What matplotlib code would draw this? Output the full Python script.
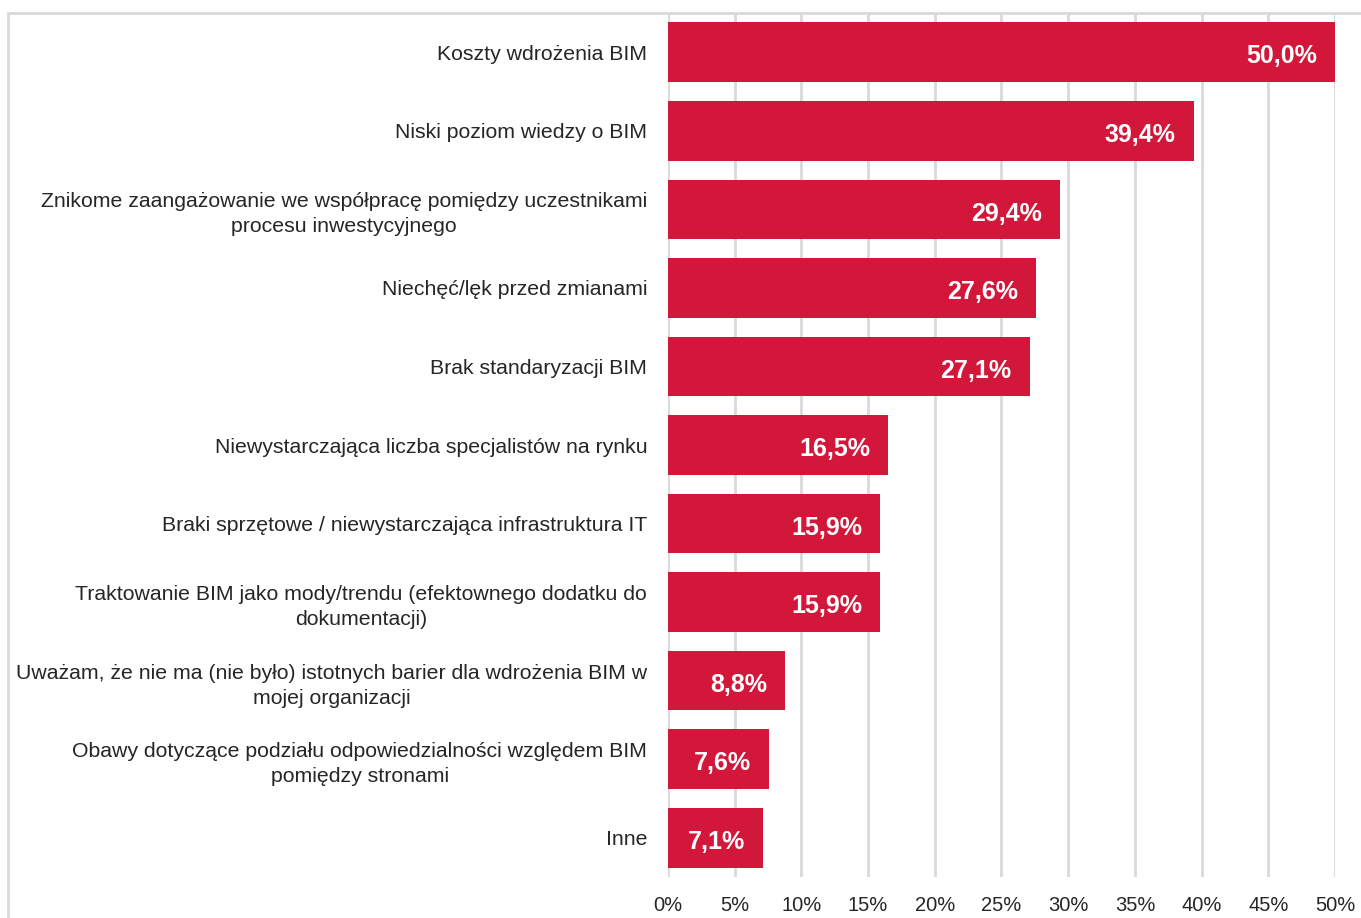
import matplotlib
matplotlib.use("Agg")
import matplotlib.pyplot as plt
from matplotlib.patches import Rectangle
from matplotlib.ticker import MultipleLocator, FuncFormatter

plt.rcParams['font.family'] = ['Liberation Sans', 'DejaVu Sans']

categories = [
    "Koszty wdrożenia BIM",
    "Niski poziom wiedzy o BIM",
    "Znikome zaangażowanie we współpracę pomiędzy uczestnikami\nprocesu inwestycyjnego",
    "Niechęć/lęk przed zmianami",
    "Brak standaryzacji BIM",
    "Niewystarczająca liczba specjalistów na rynku",
    "Braki sprzętowe / niewystarczająca infrastruktura IT",
    "Traktowanie BIM jako mody/trendu (efektownego dodatku do\ndokumentacji)",
    "Uważam, że nie ma (nie było) istotnych barier dla wdrożenia BIM w\nmojej organizacji",
    "Obawy dotyczące podziału odpowiedzialności względem BIM\npomiędzy stronami",
    "Inne",
]
values = [50.0, 39.4, 29.4, 27.6, 27.1, 16.5, 15.9, 15.9, 8.8, 7.6, 7.1]

BAR_COLOR = "#D2173A"
GRID_COLOR = "#D9D9D9"
TEXT_COLOR = "#262626"

fig = plt.figure(figsize=(13.61, 9.18), dpi=100)
ax = fig.add_axes([0.4908, 0.0447, 0.4901, 0.9411])

y = list(range(len(categories)))
ax.barh(y, values, height=0.76, color=BAR_COLOR, zorder=3)

ax.set_ylim(len(categories) - 0.5, -0.5)
ax.set_xlim(0, 50)
ax.xaxis.set_major_locator(MultipleLocator(5))
ax.xaxis.set_major_formatter(FuncFormatter(lambda v, p: f"{v:.0f}%"))
ax.grid(axis="x", color=GRID_COLOR, linewidth=2, zorder=0)
ax.set_axisbelow(True)

for s in ax.spines.values():
    s.set_visible(False)

ax.set_yticks(y)
ax.set_yticklabels(categories, fontsize=15.3, color=TEXT_COLOR,
                   multialignment="center", linespacing=1.4)
ax.tick_params(axis="y", length=0, pad=15)
ax.tick_params(axis="x", length=0, pad=14, labelsize=14.5, labelcolor=TEXT_COLOR)

for yi, v in zip(y, values):
    ax.annotate(f"{v:.1f}%".replace(".", ","), xy=(v, yi),
                xytext=(-13, -3), textcoords="offset points",
                ha="right", va="center", color="white",
                fontsize=18, fontweight="bold", zorder=4)

# light frame around the chart area
fig.patches.append(Rectangle((0.0059, -0.05), 1.1, 1.0358,
                             transform=fig.transFigure, fill=False,
                             edgecolor=GRID_COLOR, linewidth=2, zorder=0))

fig.savefig("out.png", dpi=100)
